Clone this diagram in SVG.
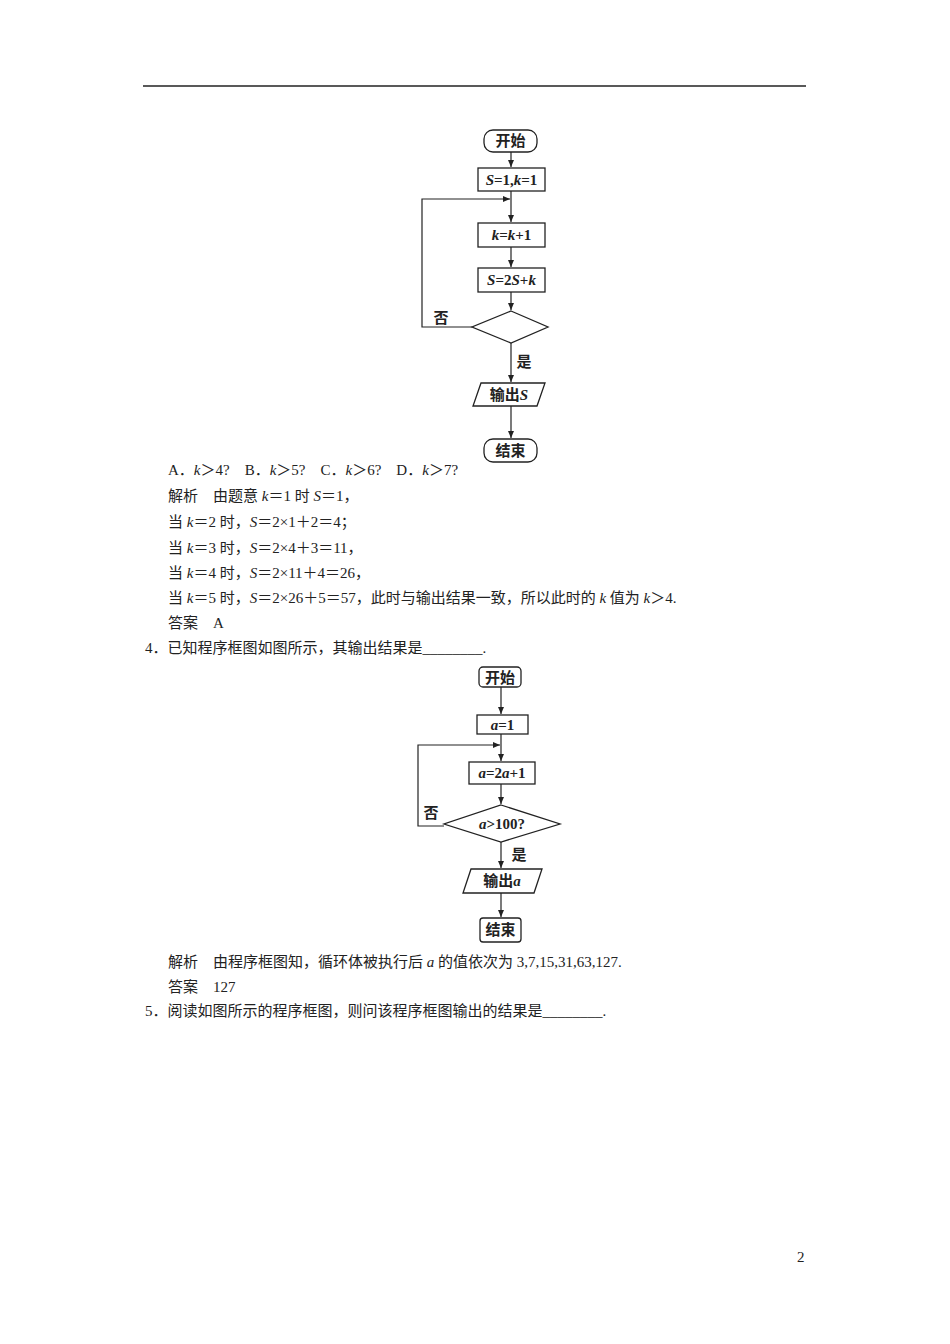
<svg xmlns="http://www.w3.org/2000/svg" width="950" height="1344" viewBox="0 0 950 1344">
<style>
.b{fill:#fff;stroke:#222;stroke-width:1.3}
.l{fill:none;stroke:#222;stroke-width:1.2}
.f{font-family:"Liberation Serif","Noto Sans CJK SC",serif;font-size:15px;fill:#222}
.n{font-family:"Liberation Serif","Noto Sans CJK SC",serif;font-size:15px;font-weight:bold;fill:#222;text-anchor:middle}
.i{font-style:italic}
</style>
<defs><marker id="a" markerWidth="8" markerHeight="8" refX="7" refY="4" orient="auto" markerUnits="userSpaceOnUse"><path d="M0,1 L7,4 L0,7 Z" fill="#222"/></marker></defs>
<rect width="950" height="1344" fill="#fff"/>
<line x1="143" y1="86" x2="806" y2="86" stroke="#222" stroke-width="1.3"/>
<g id="connectors">
<line class="l" x1="511" y1="152" x2="511" y2="167" marker-end="url(#a)"/>
<line class="l" x1="511" y1="191" x2="511" y2="222" marker-end="url(#a)"/>
<polyline class="l" points="472,327 422,327 422,199 510,199" marker-end="url(#a)"/>
<line class="l" x1="511" y1="247" x2="511" y2="267" marker-end="url(#a)"/>
<line class="l" x1="511" y1="292" x2="511" y2="310" marker-end="url(#a)"/>
<line class="l" x1="511" y1="343" x2="511" y2="382" marker-end="url(#a)"/>
<line class="l" x1="511" y1="406" x2="511" y2="438" marker-end="url(#a)"/>
<line class="l" x1="501" y1="687" x2="501" y2="714" marker-end="url(#a)"/>
<line class="l" x1="501" y1="734" x2="501" y2="761" marker-end="url(#a)"/>
<polyline class="l" points="444,826 418,826 418,745 500,745" marker-end="url(#a)"/>
<line class="l" x1="501" y1="784" x2="501" y2="804" marker-end="url(#a)"/>
<line class="l" x1="501" y1="842" x2="501" y2="868" marker-end="url(#a)"/>
<line class="l" x1="501" y1="893" x2="501" y2="917" marker-end="url(#a)"/>
</g>
<g id="n1"><rect class="b" x="484" y="130" width="53" height="22" rx="9"/><text class="n" x="510.5" y="146">开始</text></g>
<g id="n2"><rect class="b" x="478" y="168" width="67" height="23"/><text class="n" x="511.5" y="185"><tspan class="i">S</tspan>=1,<tspan class="i">k</tspan>=1</text></g>
<g id="n3"><rect class="b" x="478" y="223" width="67" height="24"/><text class="n" x="511.5" y="240"><tspan class="i">k</tspan>=<tspan class="i">k</tspan>+1</text></g>
<g id="n4"><rect class="b" x="478" y="268" width="67" height="24"/><text class="n" x="511.5" y="285"><tspan class="i">S</tspan>=2<tspan class="i">S</tspan>+<tspan class="i">k</tspan></text></g>
<g id="n5"><polygon class="b" points="511,311 548,327 511,343 472,327"/></g>
<text class="n" x="441" y="323">否</text>
<text class="n" x="524" y="367">是</text>
<g id="n6"><polygon class="b" points="481,383 545,383 537,406 473,406"/><text class="n" x="509" y="400">输出<tspan class="i">S</tspan></text></g>
<g id="n7"><rect class="b" x="484" y="439" width="53" height="23" rx="9"/><text class="n" x="510.5" y="456">结束</text></g>

<g id="m1"><rect class="b" x="479" y="667" width="42" height="20" rx="4"/><text class="n" x="500" y="683">开始</text></g>
<g id="m2"><rect class="b" x="477" y="715" width="51" height="19"/><text class="n" x="502.5" y="730"><tspan class="i">a</tspan>=1</text></g>
<g id="m3"><rect class="b" x="469" y="762" width="66" height="22"/><text class="n" x="502" y="778"><tspan class="i">a</tspan>=2<tspan class="i">a</tspan>+1</text></g>
<g id="m4"><polygon class="b" points="501,805 560,824 501,842 444,824"/><text class="n" x="502" y="829"><tspan class="i">a</tspan>&gt;100?</text></g>
<text class="n" x="431" y="818">否</text>
<text class="n" x="519" y="860">是</text>
<g id="m5"><polygon class="b" points="471,869 542,869 534,893 463,893"/><text class="n" x="502" y="886">输出<tspan class="i">a</tspan></text></g>
<g id="m6"><rect class="b" x="480" y="918" width="41" height="24" rx="3"/><text class="n" x="500.5" y="935">结束</text></g>

<g id="text">
<text class="f" x="168" y="475">A．<tspan class="i">k</tspan>＞4?　B．<tspan class="i">k</tspan>＞5?　C．<tspan class="i">k</tspan>＞6?　D．<tspan class="i">k</tspan>＞7?</text>
<text class="f" x="168" y="501">解析　由题意 <tspan class="i">k</tspan>＝1 时 <tspan class="i">S</tspan>＝1，</text>
<text class="f" x="168" y="527">当 <tspan class="i">k</tspan>＝2 时，<tspan class="i">S</tspan>＝2×1＋2＝4；</text>
<text class="f" x="168" y="553">当 <tspan class="i">k</tspan>＝3 时，<tspan class="i">S</tspan>＝2×4＋3＝11，</text>
<text class="f" x="168" y="578">当 <tspan class="i">k</tspan>＝4 时，<tspan class="i">S</tspan>＝2×11＋4＝26，</text>
<text class="f" x="168" y="603">当 <tspan class="i">k</tspan>＝5 时，<tspan class="i">S</tspan>＝2×26＋5＝57，此时与输出结果一致，所以此时的 <tspan class="i">k</tspan> 值为 <tspan class="i">k</tspan>＞4.</text>
<text class="f" x="168" y="628">答案　A</text>
<text class="f" x="145" y="653">4．已知程序框图如图所示，其输出结果是________.</text>
<text class="f" x="168" y="967">解析　由程序框图知，循环体被执行后 <tspan class="i">a</tspan> 的值依次为 3,7,15,31,63,127.</text>
<text class="f" x="168" y="992">答案　127</text>
<text class="f" x="145" y="1016">5．阅读如图所示的程序框图，则问该程序框图输出的结果是________.</text>
<text class="f" x="797" y="1262">2</text>
</g>
</svg>
